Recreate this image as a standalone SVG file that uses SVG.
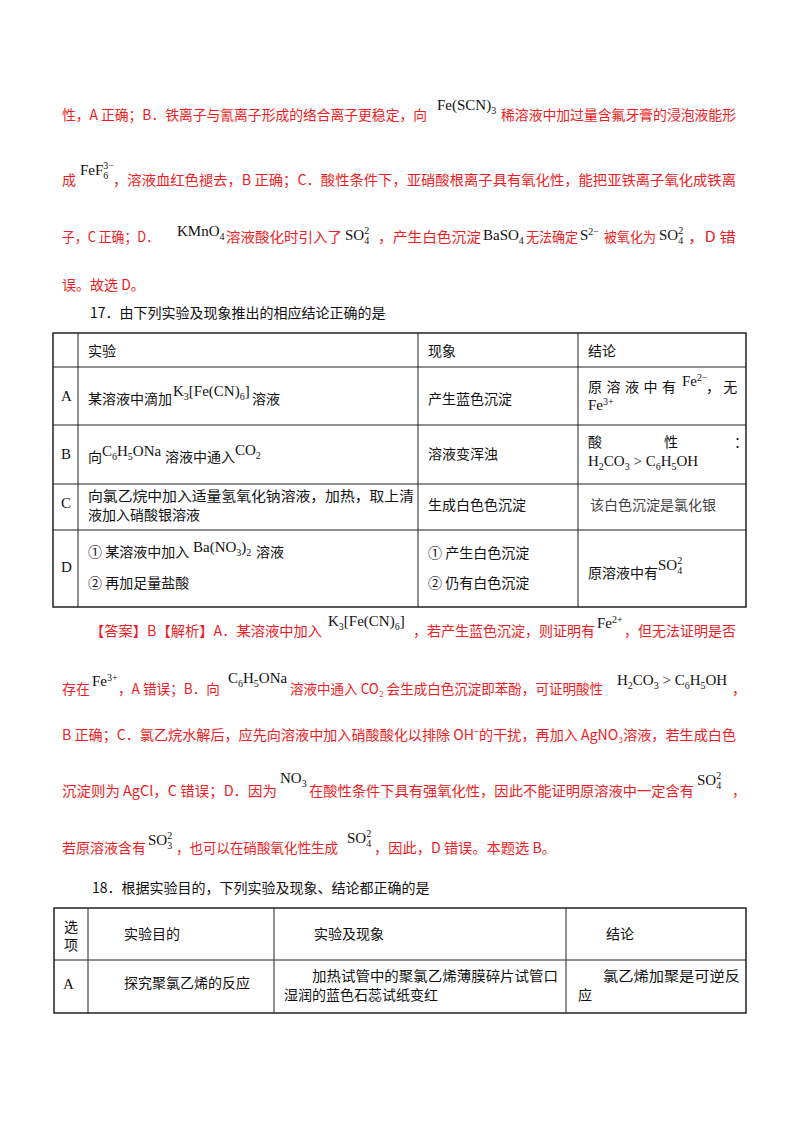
<svg xmlns="http://www.w3.org/2000/svg" width="800" height="1132" viewBox="0 0 800 1132">
<style>
text{font-family:"Noto Sans CJK SC","Liberation Serif",serif;font-size:14px}
.r{fill:#ee1c25}
.k{fill:#111}
.c{font-family:"Liberation Serif",serif;font-size:15px}
.s{font-size:10px}
.g line{stroke:#222;stroke-width:1}
.t{stroke:#222;stroke-width:1.5;fill:none}
</style>
<rect width="800" height="1132" fill="#fff"/>
<g id="p16" class="r">
<text x="62" y="120" textLength="365" lengthAdjust="spacingAndGlyphs">性，A 正确；B．铁离子与氰离子形成的络合离子更稳定，向</text>
<text class="c k" x="437" y="110">Fe(SCN)<tspan class="s" dy="4">3</tspan></text>
<text x="501" y="120" textLength="235" lengthAdjust="spacingAndGlyphs">稀溶液中加过量含氟牙膏的浸泡液能形</text>
<text x="62" y="185">成</text>
<text class="c k" x="80" y="175">FeF<tspan class="s" dy="4">6</tspan><tspan class="s" dx="-5" dy="-10">3−</tspan></text>
<text x="113" y="185" textLength="623" lengthAdjust="spacingAndGlyphs">，溶液血红色褪去，B 正确；C．酸性条件下，亚硝酸根离子具有氧化性，能把亚铁离子氧化成铁离</text>
<text x="62" y="242" textLength="97" lengthAdjust="spacingAndGlyphs">子，C 正确；D．</text>
<text class="c k" x="177" y="236">KMnO<tspan class="s" dy="4">4</tspan></text>
<text x="226" y="242" textLength="116" lengthAdjust="spacingAndGlyphs">溶液酸化时引入了</text>
<text class="c k" x="345" y="240">SO<tspan class="s" dy="4">4</tspan><tspan class="s" dx="-5" dy="-10">2</tspan></text>
<text x="378" y="242" textLength="103" lengthAdjust="spacingAndGlyphs">，产生白色沉淀</text>
<text class="c k" x="483" y="240">BaSO<tspan class="s" dy="4">4</tspan></text>
<text x="526" y="242" textLength="52" lengthAdjust="spacingAndGlyphs">无法确定</text>
<text class="c k" x="580" y="240">S<tspan class="s" dy="-5">2−</tspan></text>
<text x="604" y="242" textLength="52" lengthAdjust="spacingAndGlyphs">被氧化为</text>
<text class="c k" x="659" y="240">SO<tspan class="s" dy="4">4</tspan><tspan class="s" dx="-5" dy="-10">2</tspan></text>
<text x="688" y="242" textLength="48" lengthAdjust="spacingAndGlyphs">，D 错</text>
<text x="62" y="290">误。故选 D。</text>
</g>
<g id="q17title" class="k"><text x="90" y="318">17．由下列实验及现象推出的相应结论正确的是</text></g>
<g id="table17" class="g">
<rect class="t" x="53" y="333" width="693" height="274"/>
<line x1="53" y1="367" x2="746" y2="367"/><line x1="53" y1="425" x2="746" y2="425"/>
<line x1="53" y1="484" x2="746" y2="484"/><line x1="53" y1="530" x2="746" y2="530"/>
<line x1="78" y1="333" x2="78" y2="607"/><line x1="418" y1="333" x2="418" y2="607"/><line x1="578" y1="333" x2="578" y2="607"/>
</g>
<g id="t17text" class="k">
<text x="88" y="356">实验</text><text x="428" y="356">现象</text><text x="588" y="356">结论</text>
<text class="c" x="61" y="401">A</text>
<text x="88" y="404">某溶液中滴加</text>
<text class="c" x="173" y="396">K<tspan class="s" dy="4">3</tspan><tspan dy="-4">[Fe(CN)</tspan><tspan class="s" dy="4">6</tspan><tspan dy="-4">]</tspan></text>
<text x="252" y="404">溶液</text>
<text x="428" y="404">产生蓝色沉淀</text>
<text x="588" y="392" textLength="88">原溶液中有</text>
<text class="c" x="682" y="386">Fe<tspan class="s" dy="-5">2−</tspan></text>
<text x="706" y="392">，  无</text>
<text class="c" x="588" y="410">Fe<tspan class="s" dy="-5">3+</tspan></text>
<text class="c" x="61" y="459">B</text>
<text x="88" y="462">向</text>
<text class="c" x="102" y="456">C<tspan class="s" dy="4">6</tspan><tspan dy="-4">H</tspan><tspan class="s" dy="4">5</tspan><tspan dy="-4">ONa</tspan></text>
<text x="165" y="462">溶液中通入</text>
<text class="c" x="235" y="455">CO<tspan class="s" dy="4">2</tspan></text>
<text x="428" y="459">溶液变浑浊</text>
<text x="588" y="447">酸</text><text x="664" y="447">性</text><text x="734" y="447">：</text>
<text class="c" x="588" y="466">H<tspan class="s" dy="4">2</tspan><tspan dy="-4">CO</tspan><tspan class="s" dy="4">3</tspan><tspan dy="-4"> &gt; C</tspan><tspan class="s" dy="4">6</tspan><tspan dy="-4">H</tspan><tspan class="s" dy="4">5</tspan><tspan dy="-4">OH</tspan></text>
<text class="c" x="61" y="508">C</text>
<text x="88" y="501" textLength="326" lengthAdjust="spacingAndGlyphs">向氯乙烷中加入适量氢氧化钠溶液，加热，取上清</text>
<text x="88" y="520">液加入硝酸银溶液</text>
<text x="428" y="510">生成白色色沉淀</text>
<text x="590" y="510" fill="#444">该白色沉淀是氯化银</text>
<text class="c" x="61" y="572">D</text>
<text x="88" y="557">① 某溶液中加入</text>
<text class="c" x="193" y="552">Ba(NO<tspan class="s" dy="4">3</tspan><tspan dy="-4">)</tspan><tspan class="s" dy="4">2</tspan></text>
<text x="256" y="557">溶液</text>
<text x="88" y="588">② 再加足量盐酸</text>
<text x="428" y="558">① 产生白色沉淀</text>
<text x="428" y="588">② 仍有白色沉淀</text>
<text x="588" y="578">原溶液中有</text>
<text class="c" x="658" y="570">SO<tspan class="s" dy="4">4</tspan><tspan class="s" dx="-5" dy="-10">2</tspan></text>
</g>
<g id="answer17" class="r">
<text x="90" y="636" textLength="232" lengthAdjust="spacingAndGlyphs">【答案】B【解析】A．某溶液中加入</text>
<text class="c k" x="328" y="626">K<tspan class="s" dy="4">3</tspan><tspan dy="-4">[Fe(CN)</tspan><tspan class="s" dy="4">6</tspan><tspan dy="-4">]</tspan></text>
<text x="413" y="636" textLength="182" lengthAdjust="spacingAndGlyphs">，若产生蓝色沉淀，则证明有</text>
<text class="c k" x="597" y="628">Fe<tspan class="s" dy="-5">2+</tspan></text>
<text x="624" y="636" textLength="112" lengthAdjust="spacingAndGlyphs">，但无法证明是否</text>
<text x="62" y="694">存在</text>
<text class="c k" x="92" y="686">Fe<tspan class="s" dy="-5">3+</tspan></text>
<text x="118" y="694" textLength="102" lengthAdjust="spacingAndGlyphs">，A 错误；B．向</text>
<text class="c k" x="228" y="683">C<tspan class="s" dy="4">6</tspan><tspan dy="-4">H</tspan><tspan class="s" dy="4">5</tspan><tspan dy="-4">ONa</tspan></text>
<text x="290" y="694" textLength="313" lengthAdjust="spacingAndGlyphs">溶液中通入 CO₂ 会生成白色沉淀即苯酚，可证明酸性</text>
<text class="c k" x="617" y="685">H<tspan class="s" dy="4">2</tspan><tspan dy="-4">CO</tspan><tspan class="s" dy="4">3</tspan><tspan dy="-4"> &gt; C</tspan><tspan class="s" dy="4">6</tspan><tspan dy="-4">H</tspan><tspan class="s" dy="4">5</tspan><tspan dy="-4">OH</tspan></text>
<text x="732" y="694">，</text>
<text x="62" y="740" textLength="674" lengthAdjust="spacingAndGlyphs">B 正确；C．氯乙烷水解后，应先向溶液中加入硝酸酸化以排除 OH⁻的干扰，再加入 AgNO₃溶液，若生成白色</text>
<text x="62" y="796" textLength="215" lengthAdjust="spacingAndGlyphs">沉淀则为 AgCl，C 错误；D．因为</text>
<text class="c k" x="280" y="783">NO<tspan class="s" dy="4">3</tspan></text>
<text x="309" y="796" textLength="385" lengthAdjust="spacingAndGlyphs">在酸性条件下具有强氧化性，因此不能证明原溶液中一定含有</text>
<text class="c k" x="697" y="785">SO<tspan class="s" dy="4">4</tspan><tspan class="s" dx="-5" dy="-10">2</tspan></text>
<text x="732" y="796">，</text>
<text x="62" y="853">若原溶液含有</text>
<text class="c k" x="148" y="845">SO<tspan class="s" dy="4">3</tspan><tspan class="s" dx="-5" dy="-10">2</tspan></text>
<text x="176" y="853" textLength="162" lengthAdjust="spacingAndGlyphs">，也可以在硝酸氧化性生成</text>
<text class="c k" x="347" y="843">SO<tspan class="s" dy="4">4</tspan><tspan class="s" dx="-5" dy="-10">2</tspan></text>
<text x="374" y="853" textLength="182" lengthAdjust="spacingAndGlyphs">，因此，D 错误。本题选 B。</text>
</g>
<g id="q18title" class="k"><text x="92" y="893">18．根据实验目的，下列实验及现象、结论都正确的是</text></g>
<g id="table18" class="g">
<rect class="t" x="54" y="908" width="692" height="105"/>
<line x1="54" y1="960" x2="746" y2="960"/>
<line x1="88" y1="908" x2="88" y2="1013"/><line x1="274" y1="908" x2="274" y2="1013"/><line x1="566" y1="908" x2="566" y2="1013"/>
</g>
<g id="t18text" class="k">
<text x="64" y="932">选</text><text x="64" y="950">项</text>
<text x="124" y="939">实验目的</text><text x="314" y="939">实验及现象</text><text x="606" y="939">结论</text>
<text class="c" x="63" y="989">A</text>
<text x="124" y="988">探究聚氯乙烯的反应</text>
<text x="312" y="981" textLength="246" lengthAdjust="spacingAndGlyphs">加热试管中的聚氯乙烯薄膜碎片试管口</text>
<text x="284" y="1000">湿润的蓝色石蕊试纸变红</text>
<text x="603" y="981" textLength="137" lengthAdjust="spacingAndGlyphs">氯乙烯加聚是可逆反</text>
<text x="578" y="1000">应</text>
</g>
</svg>
